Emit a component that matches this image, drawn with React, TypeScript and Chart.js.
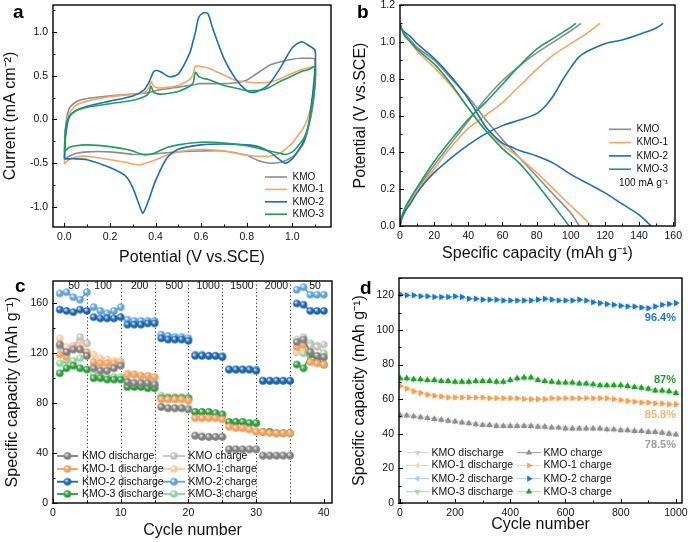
import React, { useEffect, useRef } from "react";
import { Chart, registerables } from "chart.js";
Chart.register(...registerables);

const FONT = "'Liberation Sans', Arial, Helvetica, sans-serif";
const NAMES = ["KMO", "KMO-1", "KMO-2", "KMO-3"];

// ---------------- Panel a : CV curves ----------------
const cvAnodicV = [0, 0.005, 0.02, 0.05, 0.1, 0.2, 0.3, 0.35, 0.37, 0.38, 0.39, 0.4, 0.42, 0.46, 0.5, 0.55, 0.565, 0.575, 0.59, 0.61, 0.63, 0.65, 0.7, 0.75, 0.8, 0.83, 0.87, 0.9, 0.95, 1.0, 1.04, 1.07, 1.1];
const cvCathodicV = [1.1, 1.09, 1.07, 1.05, 1.02, 1.0, 0.97, 0.95, 0.9, 0.85, 0.8, 0.7, 0.6, 0.5, 0.45, 0.4, 0.37, 0.345, 0.33, 0.3, 0.27, 0.2, 0.1, 0.05, 0.02, 0];

const kmoAnodic = [-0.45, -0.1, 0.12, 0.2, 0.24, 0.27, 0.29, 0.3, 0.31, 0.315, 0.32, 0.33, 0.34, 0.355, 0.37, 0.39, 0.395, 0.4, 0.41, 0.41, 0.41, 0.41, 0.41, 0.42, 0.45, 0.5, 0.57, 0.62, 0.66, 0.69, 0.7, 0.7, 0.69];
const kmoCathodic = [0.45, 0.15, -0.1, -0.27, -0.38, -0.43, -0.47, -0.49, -0.5, -0.47, -0.41, -0.36, -0.36, -0.37, -0.38, -0.39, -0.4, -0.4, -0.4, -0.4, -0.39, -0.37, -0.37, -0.39, -0.42, -0.45];
const kmo1Anodic = [-0.51, -0.15, 0.06, 0.16, 0.21, 0.26, 0.29, 0.31, 0.36, 0.43, 0.39, 0.37, 0.36, 0.37, 0.39, 0.46, 0.52, 0.61, 0.61, 0.6, 0.59, 0.57, 0.51, 0.45, 0.43, 0.42, 0.42, 0.43, 0.47, 0.53, 0.57, 0.59, 0.6];
const kmo1Cathodic = [0.45, 0.25, 0.03, -0.09, -0.2, -0.27, -0.34, -0.38, -0.42, -0.42, -0.41, -0.36, -0.34, -0.37, -0.41, -0.46, -0.49, -0.51, -0.52, -0.51, -0.49, -0.46, -0.42, -0.43, -0.46, -0.51];
const kmo2Anodic = [-0.45, -0.2, 0.02, 0.1, 0.15, 0.21, 0.27, 0.34, 0.42, 0.48, 0.54, 0.56, 0.55, 0.49, 0.52, 0.76, 0.9, 1.0, 1.17, 1.22, 1.21, 1.05, 0.7, 0.47, 0.33, 0.31, 0.35, 0.41, 0.6, 0.82, 0.89, 0.85, 0.79];
const kmo2Cathodic = [0.6, 0.3, -0.08, -0.25, -0.38, -0.45, -0.5, -0.47, -0.37, -0.31, -0.29, -0.28, -0.29, -0.34, -0.44, -0.7, -0.92, -1.07, -0.99, -0.78, -0.65, -0.55, -0.46, -0.45, -0.45, -0.45];
const kmo3Anodic = [-0.37, -0.1, 0.03, 0.1, 0.14, 0.18, 0.22, 0.26, 0.3, 0.38, 0.32, 0.3, 0.29, 0.3, 0.32, 0.38, 0.42, 0.54, 0.49, 0.47, 0.46, 0.44, 0.39, 0.36, 0.33, 0.33, 0.34, 0.37, 0.44, 0.5, 0.55, 0.57, 0.6];
const kmo3Cathodic = [0.4, 0.2, -0.08, -0.22, -0.32, -0.37, -0.4, -0.39, -0.36, -0.33, -0.3, -0.27, -0.26, -0.29, -0.32, -0.38, -0.4, -0.4, -0.39, -0.36, -0.34, -0.31, -0.29, -0.3, -0.32, -0.37];

// ---------------- Panel b : GCD curves ----------------
const kmoChgCap = [0, 1, 3, 6, 10, 20, 30, 40, 50, 60, 70, 80, 90, 100, 106];
const kmoChgV = [0, 0.04, 0.09, 0.14, 0.2, 0.33, 0.45, 0.57, 0.69, 0.79, 0.87, 0.94, 1.0, 1.06, 1.1];
const kmo1ChgCap = [0, 1, 3, 6, 10, 20, 30, 40, 50, 60, 70, 80, 90, 100, 110, 117];
const kmo1ChgV = [0, 0.04, 0.08, 0.13, 0.19, 0.31, 0.43, 0.53, 0.6, 0.67, 0.76, 0.85, 0.93, 0.99, 1.05, 1.1];
const kmo2ChgCap = [0, 1, 3, 6, 10, 15, 20, 25, 30, 40, 50, 60, 70, 80, 85, 90, 95, 100, 105, 110, 120, 130, 140, 150, 154];
const kmo2ChgV = [0, 0.04, 0.08, 0.12, 0.18, 0.24, 0.29, 0.33, 0.37, 0.44, 0.5, 0.545, 0.575, 0.61, 0.65, 0.71, 0.79, 0.86, 0.92, 0.95, 0.99, 1.01, 1.04, 1.075, 1.1];
const kmo3ChgCap = [0, 1, 3, 6, 10, 20, 30, 40, 50, 60, 70, 80, 90, 100, 103];
const kmo3ChgV = [0, 0.05, 0.1, 0.15, 0.21, 0.35, 0.47, 0.58, 0.67, 0.77, 0.87, 0.96, 1.02, 1.08, 1.1];

const kmoDisCap = [0, 1, 3, 6, 10, 20, 30, 40, 50, 60, 70, 80, 90, 100, 105];
const kmoDisV = [1.1, 1.07, 1.04, 1.01, 0.97, 0.9, 0.8, 0.7, 0.58, 0.47, 0.37, 0.27, 0.17, 0.07, 0];
const kmo1DisCap = [0, 1, 3, 6, 10, 20, 30, 40, 50, 60, 70, 80, 90, 100, 108, 112];
const kmo1DisV = [1.1, 1.07, 1.03, 1.0, 0.95, 0.86, 0.76, 0.64, 0.52, 0.44, 0.37, 0.29, 0.2, 0.11, 0.04, 0];
const kmo2DisCap = [0, 1, 3, 6, 10, 20, 30, 40, 50, 55, 60, 65, 70, 80, 90, 100, 110, 120, 130, 140, 147];
const kmo2DisV = [1.1, 1.07, 1.05, 1.03, 0.99, 0.91, 0.81, 0.69, 0.54, 0.49, 0.45, 0.43, 0.41, 0.38, 0.34, 0.28, 0.23, 0.18, 0.12, 0.06, 0];
const kmo3DisCap = [0, 1, 3, 6, 10, 20, 30, 40, 50, 60, 70, 80, 90, 99];
const kmo3DisV = [1.1, 1.07, 1.03, 1.0, 0.96, 0.88, 0.77, 0.64, 0.52, 0.42, 0.34, 0.23, 0.11, 0];

// ---------------- Panel c : rate capability ----------------
const rateCycles = [1, 2, 3, 4, 5, 6, 7, 8, 9, 10, 11, 12, 13, 14, 15, 16, 17, 18, 19, 20, 21, 22, 23, 24, 25, 26, 27, 28, 29, 30, 31, 32, 33, 34, 35, 36, 37, 38, 39, 40];
const kmoRateDis = [127, 121, 123, 123, 118, 108, 106, 106, 108, 110, 97, 96, 96, 96, 95, 77, 76, 76, 76, 75, 54, 53, 53, 53, 53, 43, 43, 43, 43, 43, 38, 38, 38, 38, 38, 129, 131, 121, 118, 117];
const kmoRateChg = [125, 120, 126, 133, 128, 109, 107, 107, 110, 113, 98, 97, 97, 97, 96, 77, 76, 76, 76, 76, 54, 54, 53, 53, 53, 43, 43, 43, 43, 43, 38, 38, 38, 38, 38, 131, 133, 126, 125, 127];
const kmo1RateDis = [119, 117, 124, 124, 121, 113, 112, 112, 112, 111, 103, 103, 102, 102, 101, 83, 83, 83, 83, 82, 68, 68, 68, 68, 67, 61, 60, 60, 59, 57, 57, 56, 56, 56, 56, 125, 127, 113, 112, 111];
const kmo1RateChg = [132, 125, 125, 130, 128, 119, 116, 115, 114, 114, 104, 103, 102, 101, 100, 84, 84, 84, 84, 83, 69, 69, 69, 69, 68, 62, 61, 60, 59, 58, 57, 57, 56, 56, 56, 121, 126, 124, 118, 116];
const kmo2RateDis = [155, 154, 153, 155, 154, 149, 148, 148, 148, 149, 143, 143, 143, 144, 144, 132, 131, 131, 131, 130, 118, 118, 118, 118, 117, 107, 107, 107, 107, 106, 98, 98, 98, 98, 98, 160, 159, 154, 154, 154];
const kmo2RateChg = [168, 169, 165, 163, 169, 157, 154, 152, 154, 157, 147, 146, 146, 146, 146, 135, 134, 133, 133, 132, 119, 119, 118, 118, 118, 107, 107, 107, 107, 107, 98, 98, 98, 98, 98, 171, 173, 167, 167, 167];
const kmo3RateDis = [104, 108, 110, 108, 107, 100, 100, 99, 99, 99, 93, 93, 93, 92, 92, 84, 84, 84, 84, 84, 73, 73, 73, 72, 71, 65, 65, 65, 64, 64, 57, 57, 56, 56, 56, 111, 108, 119, 115, 111];
const kmo3RateChg = [112, 114, 114, 116, 118, 103, 102, 101, 101, 101, 95, 95, 94, 94, 94, 86, 85, 85, 85, 84, 73, 73, 73, 72, 71, 65, 65, 65, 64, 64, 57, 57, 56, 56, 56, 121, 120, 128, 126, 120];
const rateBoundaries = [5, 10, 15, 20, 25, 30, 35];
const rateLabels = ["50", "100", "200", "500", "1000", "1500", "2000", "50"];
const rateLabelPos = [3.1, 7.4, 12.8, 17.9, 22.9, 27.9, 33.0, 38.7];

// ---------------- Panel d : long cycling ----------------
const longCycles = [1, 25, 50, 75, 100, 125, 150, 175, 200, 225, 250, 275, 300, 325, 350, 375, 400, 425, 450, 475, 500, 525, 550, 575, 600, 625, 650, 675, 700, 725, 750, 775, 800, 825, 850, 875, 900, 925, 950, 975, 1000];
const kmoLongChg = [50.5, 50.5, 50, 49.5, 49, 48.5, 48, 47.5, 47, 46.5, 46, 45.5, 45, 45, 44.5, 44.5, 44.5, 44.5, 44.5, 44.5, 44, 44, 43.5, 43.5, 43, 43, 43, 43, 43, 43, 42.5, 42.5, 42, 42, 41.5, 41.5, 41, 41, 40.5, 40, 39.5];
const kmoLongDis = [50.8, 50.6, 50.2, 49.6, 49.2, 48.6, 48.2, 47.6, 47.2, 46.6, 46.2, 45.6, 45.2, 45, 44.8, 44.6, 44.6, 44.5, 44.6, 44.5, 44.2, 44, 43.6, 43.5, 43.2, 43, 43.2, 43, 43.1, 43, 42.6, 42.5, 42.2, 42, 41.6, 41.5, 41.2, 41, 40.6, 40.2, 39.6];
const kmo1LongChg = [67.5, 66, 64.5, 63.5, 62.5, 62, 61.5, 61, 61, 61, 61, 61, 61, 60.5, 60.5, 60.5, 60.5, 60.5, 60, 60, 60, 60, 60.5, 60.5, 60.5, 60.5, 60.5, 60.5, 60.5, 60.5, 60.5, 60, 59.5, 59, 58.5, 58, 58, 57.5, 57.5, 57, 57];
const kmo1LongDis = [68, 66.5, 65, 63.8, 62.8, 62.2, 61.7, 61.2, 61.1, 61, 61.1, 61, 61, 60.7, 60.6, 60.5, 60.6, 60.4, 60.2, 60.1, 60, 60.2, 60.5, 60.6, 60.5, 60.6, 60.5, 60.6, 60.5, 60.5, 60.4, 60.1, 59.6, 59.1, 58.6, 58.2, 58, 57.7, 57.5, 57.2, 57];
const kmo2LongChg = [120.5, 120, 120, 119.5, 119.5, 119, 119, 119, 119.5, 119, 118, 118, 117.5, 117.5, 117.5, 117, 117, 117, 117, 117, 117.5, 118, 117.5, 117, 117, 117, 117.5, 117, 116, 115.5, 115, 114.5, 114, 113.5, 113.5, 113, 112.5, 113.5, 114.5, 115, 115.5];
const kmo2LongDis = [120.3, 120.2, 119.8, 119.6, 119.3, 119.2, 118.9, 119.1, 119.3, 118.8, 118.2, 117.8, 117.6, 117.4, 117.3, 117.1, 116.9, 117, 117.1, 116.9, 117.4, 117.8, 117.4, 117.1, 116.9, 117.1, 117.3, 116.8, 116.1, 115.4, 114.9, 114.3, 113.8, 113.6, 113.3, 112.9, 112.6, 113.3, 114.3, 114.9, 115.3];
const kmo3LongChg = [72, 72, 71.5, 71.5, 71, 71, 70.5, 70.5, 70, 70, 70, 70.5, 70.5, 70.5, 70, 70, 71, 72, 72.5, 72.5, 71, 70.5, 70, 69.5, 69.5, 69.5, 69, 69, 68.5, 68, 68, 68, 68, 67.5, 67, 66.5, 66, 65, 65, 64.5, 63.5];
const kmo3LongDis = [71.8, 71.7, 71.4, 71.2, 70.9, 70.8, 70.4, 70.3, 70, 69.9, 70, 70.3, 70.4, 70.3, 70.1, 70, 70.8, 71.8, 72.3, 72.4, 71.1, 70.4, 70.1, 69.6, 69.4, 69.4, 69.1, 68.9, 68.4, 68.1, 67.9, 68, 67.8, 67.4, 67, 66.4, 66, 65.2, 64.8, 64.3, 63.6];
const retentionLabels = ["96.4%", "87%", "85.8%", "78.5%"];

// ---------------- styling ----------------
const LINE_COLORS = ["#8c8c8c", "#f7a469", "#1f6db5", "#1f9e5e"];
const RATE_DARK = ["#7f7f7f", "#f59e5a", "#1a63ad", "#2b9b38"];
const RATE_LIGHT = ["#c2c2c2", "#fbcaa2", "#5aa2d8", "#8fd49a"];
const LONG_CHG = ["#8f8f8f", "#f89f55", "#1f78c1", "#22a02c"];
const LONG_DIS = ["#d2d2d2", "#fcd3b0", "#a9cdec", "#a3dca3"];
const RET_COLORS = ["#1f78c1", "#22a02c", "#f9b37a", "#a0a0a0"];

type Pt = { x: number; y: number | null };
const zip = (xs: number[], ys: number[]): Pt[] => xs.map((x, i) => ({ x, y: ys[i] }));
// break the connecting line between current-density steps
const segmented = (xs: number[], ys: number[], breaks: number[]): Pt[] => {
  const out: Pt[] = [];
  xs.forEach((x, i) => {
    out.push({ x, y: ys[i] });
    if (breaks.includes(x)) out.push({ x: x + 0.5, y: null });
  });
  return out;
};

function makeBall(color: string, hi: string, r = 3.8) {
  const size = Math.ceil(r * 2 + 2);
  const c = document.createElement("canvas");
  c.width = size;
  c.height = size;
  const g = c.getContext("2d")!;
  const cx = size / 2, cy = size / 2;
  const grad = g.createRadialGradient(cx - r * 0.35, cy - r * 0.4, r * 0.1, cx, cy, r);
  grad.addColorStop(0, hi);
  grad.addColorStop(0.55, color);
  grad.addColorStop(1, color);
  g.fillStyle = grad;
  g.beginPath();
  g.arc(cx, cy, r, 0, Math.PI * 2);
  g.fill();
  return c;
}

function drawTri(ctx: CanvasRenderingContext2D, x: number, y: number, r: number, rotDeg: number, fill: string) {
  let rad = (rotDeg * Math.PI) / 180;
  ctx.beginPath();
  for (let k = 0; k < 3; k++) {
    const px = x + Math.sin(rad) * r, py = y - Math.cos(rad) * r;
    if (k === 0) ctx.moveTo(px, py); else ctx.lineTo(px, py);
    rad += (2 * Math.PI) / 3;
  }
  ctx.closePath();
  ctx.fillStyle = fill;
  ctx.fill();
}

type LegendItem = { x1: number; x2: number; tx: number; y: number; label: string; color: string; lw: number; ball?: HTMLCanvasElement; tri?: { rot: number; fill: string; r: number } };
type TextItem = { x: number; y: number; text: string; font: string; color: string; align: CanvasTextAlign; baseline?: CanvasTextBaseline };
type OverlayCfg = {
  xMajor: number[]; xMinor: number[]; yMajor: number[]; yMinor: number[];
  legend: LegendItem[]; legendFont: string; texts: TextItem[];
  vlines?: number[]; dataTexts?: { xv: number; dy: number; text: string; font: string }[];
};

function makeOverlay(cfg: OverlayCfg) {
  return {
    id: "overlay",
    beforeDatasetsDraw(chart: any) {
      if (!cfg.vlines) return;
      const { ctx, chartArea: ca, scales } = chart;
      ctx.save();
      ctx.strokeStyle = "#333";
      ctx.lineWidth = 1;
      ctx.setLineDash([1.2, 2.4]);
      for (const v of cfg.vlines) {
        const px = Math.round(scales.x.getPixelForValue(v)) + 0.5;
        ctx.beginPath();
        ctx.moveTo(px, ca.top);
        ctx.lineTo(px, ca.bottom);
        ctx.stroke();
      }
      ctx.restore();
    },
    afterDraw(chart: any) {
      const { ctx, chartArea: ca, scales } = chart;
      ctx.save();
      ctx.strokeStyle = "#000";
      ctx.lineWidth = 1;
      const tick = (x1: number, y1: number, x2: number, y2: number) => {
        ctx.beginPath();
        ctx.moveTo(x1, y1);
        ctx.lineTo(x2, y2);
        ctx.stroke();
      };
      for (const v of cfg.xMajor) { const p = Math.round(scales.x.getPixelForValue(v)) + 0.5; tick(p, ca.bottom, p, ca.bottom - 4); }
      for (const v of cfg.xMinor) { const p = Math.round(scales.x.getPixelForValue(v)) + 0.5; tick(p, ca.bottom, p, ca.bottom - 2.5); }
      for (const v of cfg.yMajor) { const p = Math.round(scales.y.getPixelForValue(v)) + 0.5; tick(ca.left - 1, p, ca.left + 4, p); }
      for (const v of cfg.yMinor) { const p = Math.round(scales.y.getPixelForValue(v)) + 0.5; tick(ca.left, p, ca.left + 2.5, p); }
      ctx.lineWidth = 1.4;
      ctx.strokeRect(ca.left, ca.top, ca.right - ca.left, ca.bottom - ca.top);
      ctx.font = cfg.legendFont;
      ctx.textBaseline = "middle";
      ctx.textAlign = "left";
      for (const it of cfg.legend) {
        ctx.strokeStyle = it.color;
        ctx.lineWidth = it.lw;
        ctx.beginPath();
        ctx.moveTo(it.x1, it.y);
        ctx.lineTo(it.x2, it.y);
        ctx.stroke();
        const mx = (it.x1 + it.x2) / 2;
        if (it.ball) ctx.drawImage(it.ball, mx - it.ball.width / 2, it.y - it.ball.height / 2);
        if (it.tri) drawTri(ctx, mx, it.y, it.tri.r, it.tri.rot, it.tri.fill);
        ctx.fillStyle = "#111";
        ctx.fillText(it.label, it.tx, it.y);
      }
      for (const t of cfg.texts) {
        ctx.font = t.font;
        ctx.fillStyle = t.color;
        ctx.textAlign = t.align;
        ctx.textBaseline = t.baseline || "alphabetic";
        ctx.fillText(t.text, t.x, t.y);
      }
      if (cfg.dataTexts) {
        for (const t of cfg.dataTexts) {
          ctx.font = t.font;
          ctx.fillStyle = "#111";
          ctx.textAlign = "center";
          ctx.textBaseline = "middle";
          ctx.fillText(t.text, scales.x.getPixelForValue(t.xv), ca.top + t.dy);
        }
      }
      ctx.restore();
    },
  };
}

function axis(o: { min: number; max: number; major: number[]; title: string; titlePad: number; size: number; horizontal: boolean; fmt: (v: number) => string; tickPad: number }) {
  return {
    type: "linear",
    min: o.min,
    max: o.max,
    grid: { display: false, drawTicks: false },
    border: { display: false },
    ticks: {
      font: { family: FONT, size: 10.5 },
      color: "#111",
      padding: o.tickPad,
      autoSkip: false,
      maxRotation: 0,
      callback: (v: number) => o.fmt(v),
    },
    afterBuildTicks: (s: any) => { s.ticks = o.major.map((v) => ({ value: v })); },
    afterFit: (s: any) => {
      if (o.horizontal) s.height = o.size; else s.width = o.size;
      s.paddingTop = 0; s.paddingBottom = 0; s.paddingLeft = 0; s.paddingRight = 0;
    },
    title: { display: true, text: o.title, font: { family: FONT, size: 16 }, color: "#111", padding: { top: o.titlePad, bottom: o.titlePad } },
  };
}

const baseOptions = (pad: { top: number; right: number }, x: any, y: any) => ({
  animation: false,
  responsive: false,
  layout: { padding: { top: pad.top, right: pad.right, left: 0, bottom: 0 } },
  plugins: { legend: { display: false }, tooltip: { enabled: false } },
  scales: { x, y },
});

const f1 = (v: number) => v.toFixed(1);
const f0 = (v: number) => String(Math.round(v));
const LFONT = `10px ${FONT}`;
const LFONT2 = `10.5px ${FONT}`;
const PFONT = `bold 19px ${FONT}`;

function buildA(cv: HTMLCanvasElement) {
  const an = [kmoAnodic, kmo1Anodic, kmo2Anodic, kmo3Anodic];
  const ca = [kmoCathodic, kmo1Cathodic, kmo2Cathodic, kmo3Cathodic];
  const datasets = NAMES.map((n, i) => ({
    label: n,
    data: [...zip(cvAnodicV, an[i]), ...zip(cvCathodicV, ca[i])],
    showLine: true,
    borderColor: LINE_COLORS[i],
    borderWidth: 1.6,
    pointRadius: 0,
    tension: 0.25,
    fill: false,
    order: 3 - i,
  }));
  const legend: LegendItem[] = NAMES.map((n, i) => ({ x1: 265, x2: 287, tx: 292.5, y: 177 + i * 12.4, label: n, color: LINE_COLORS[i], lw: 1.6 }));
  const overlay = makeOverlay({
    xMajor: [0, 0.2, 0.4, 0.6, 0.8, 1.0], xMinor: [0.1, 0.3, 0.5, 0.7, 0.9, 1.1],
    yMajor: [-1, -0.5, 0, 0.5, 1], yMinor: [-0.75, -0.25, 0.25, 0.75, 1.25],
    legend, legendFont: LFONT,
    texts: [{ x: 13, y: 18.3, text: "a", font: PFONT, color: "#000", align: "left" }],
  });
  return new Chart(cv, {
    type: "scatter",
    data: { datasets },
    options: baseOptions({ top: 5, right: 13 },
      axis({ min: -0.05, max: 1.17, major: [0, 0.2, 0.4, 0.6, 0.8, 1.0], title: "Potential (V vs.SCE)", titlePad: 3.5, size: 44, horizontal: true, fmt: f1, tickPad: 4 }),
      axis({ min: -1.23, max: 1.31, major: [-1, -0.5, 0, 0.5, 1], title: "Current (mA cm⁻²)", titlePad: 0.5, size: 53, horizontal: false, fmt: f1, tickPad: 5 })) as any,
    plugins: [overlay],
  } as any);
}

function buildB(cv: HTMLCanvasElement) {
  const chg = [zip(kmoChgCap, kmoChgV), zip(kmo1ChgCap, kmo1ChgV), zip(kmo2ChgCap, kmo2ChgV), zip(kmo3ChgCap, kmo3ChgV)];
  const dis = [zip(kmoDisCap, kmoDisV), zip(kmo1DisCap, kmo1DisV), zip(kmo2DisCap, kmo2DisV), zip(kmo3DisCap, kmo3DisV)];
  const datasets: any[] = [];
  NAMES.forEach((n, i) => {
    datasets.push({ label: n + " charge", data: chg[i], showLine: true, borderColor: LINE_COLORS[i], borderWidth: 1.6, pointRadius: 0, tension: 0.35, order: 3 - i });
    datasets.push({ label: n + " discharge", data: dis[i], showLine: true, borderColor: LINE_COLORS[i], borderWidth: 1.6, pointRadius: 0, tension: 0.35, order: 3 - i });
  });
  const legend: LegendItem[] = NAMES.map((n, i) => ({ x1: 265, x2: 287, tx: 292.5, y: 129.3 + i * 13.3, label: n, color: LINE_COLORS[i], lw: 1.6 }));
  const overlay = makeOverlay({
    xMajor: [0, 20, 40, 60, 80, 100, 120, 140, 160], xMinor: [10, 30, 50, 70, 90, 110, 130, 150],
    yMajor: [0, 0.2, 0.4, 0.6, 0.8, 1.0, 1.2], yMinor: [0.1, 0.3, 0.5, 0.7, 0.9, 1.1],
    legend, legendFont: LFONT,
    texts: [
      { x: 13, y: 18.3, text: "b", font: PFONT, color: "#000", align: "left" },
      { x: 275, y: 183, text: "100 mA g⁻¹", font: LFONT, color: "#111", align: "left", baseline: "middle" },
    ],
  });
  return new Chart(cv, {
    type: "scatter",
    data: { datasets },
    options: baseOptions({ top: 5, right: 13 },
      axis({ min: 0, max: 161, major: [0, 20, 40, 60, 80, 100, 120, 140, 160], title: "Specific capacity (mAh g⁻¹)", titlePad: 7.5, size: 45, horizontal: true, fmt: f0, tickPad: 4 }),
      axis({ min: 0, max: 1.2, major: [0, 0.2, 0.4, 0.6, 0.8, 1.0, 1.2], title: "Potential (V vs.SCE)", titlePad: 7, size: 56, horizontal: false, fmt: f1, tickPad: 5 })) as any,
    plugins: [overlay],
  } as any);
}

function buildC(cv: HTMLCanvasElement) {
  const dis = [kmoRateDis, kmo1RateDis, kmo2RateDis, kmo3RateDis];
  const chg = [kmoRateChg, kmo1RateChg, kmo2RateChg, kmo3RateChg];
  const darkBalls = RATE_DARK.map((c) => makeBall(c, "#e8e8e8"));
  const lightBalls = RATE_LIGHT.map((c) => makeBall(c, "#ffffff"));
  const datasets: any[] = [];
  NAMES.forEach((n, i) => {
    datasets.push({ label: n + " charge", data: segmented(rateCycles, chg[i], rateBoundaries), showLine: true, spanGaps: false, borderColor: RATE_LIGHT[i], borderWidth: 1.5, pointStyle: lightBalls[i], pointRadius: 4, order: 10 + i });
    datasets.push({ label: n + " discharge", data: segmented(rateCycles, dis[i], rateBoundaries), showLine: true, spanGaps: false, borderColor: RATE_DARK[i], borderWidth: 1.5, pointStyle: darkBalls[i], pointRadius: 4, order: i });
  });
  const rows = [185, 198, 210.7, 223];
  const legend: LegendItem[] = [];
  NAMES.forEach((n, i) => {
    legend.push({ x1: 57, x2: 78, tx: 82, y: rows[i], label: n + " discharge", color: RATE_DARK[i], lw: 1.8, ball: darkBalls[i] });
    legend.push({ x1: 163, x2: 185, tx: 188.5, y: rows[i], label: n + " charge", color: RATE_LIGHT[i], lw: 1.8, ball: lightBalls[i] });
  });
  const overlay = makeOverlay({
    xMajor: [0, 10, 20, 30, 40], xMinor: [5, 15, 25, 35],
    yMajor: [0, 40, 80, 120, 160], yMinor: [20, 60, 100, 140],
    legend, legendFont: LFONT2,
    texts: [{ x: 15, y: 20.7, text: "c", font: PFONT, color: "#000", align: "left" }],
    vlines: rateBoundaries,
    dataTexts: rateLabels.map((t, i) => ({ xv: rateLabelPos[i], dy: 5.5, text: t, font: LFONT2 })),
  });
  return new Chart(cv, {
    type: "scatter",
    data: { datasets },
    options: baseOptions({ top: 10, right: 12 },
      axis({ min: 0, max: 41.2, major: [0, 10, 20, 30, 40], title: "Cycle number", titlePad: 2, size: 39, horizontal: true, fmt: f0, tickPad: 4 }),
      axis({ min: 0, max: 178, major: [0, 40, 80, 120, 160], title: "Specific capacity (mAh g⁻¹)", titlePad: 3, size: 53, horizontal: false, fmt: f0, tickPad: 5 })) as any,
    plugins: [overlay],
  } as any);
}

function buildD(cv: HTMLCanvasElement) {
  const chg = [kmoLongChg, kmo1LongChg, kmo2LongChg, kmo3LongChg];
  const dis = [kmoLongDis, kmo1LongDis, kmo2LongDis, kmo3LongDis];
  const chgRot = [0, 90, 90, 0];
  const disRot = [180, 270, 270, 180];
  const datasets: any[] = [];
  NAMES.forEach((n, i) => {
    datasets.push({ label: n + " discharge", data: zip(longCycles, dis[i]), showLine: true, borderColor: LONG_DIS[i], borderWidth: 1, pointStyle: "triangle", rotation: disRot[i], pointRadius: 3.8, pointBackgroundColor: LONG_DIS[i], pointBorderWidth: 0, order: 10 + i });
    datasets.push({ label: n + " charge", data: zip(longCycles, chg[i]), showLine: true, borderColor: LONG_DIS[i], borderWidth: 1, pointStyle: "triangle", rotation: chgRot[i], pointRadius: 3.8, pointBackgroundColor: LONG_CHG[i], pointBorderWidth: 0, order: i });
  });
  const rows = [181.7, 194.5, 207.7, 220.7];
  const legend: LegendItem[] = [];
  NAMES.forEach((n, i) => {
    legend.push({ x1: 62, x2: 85, tx: 87.5, y: rows[i], label: n + " discharge", color: LONG_DIS[i], lw: 1, tri: { rot: disRot[i], fill: LONG_DIS[i], r: 3.6 } });
    legend.push({ x1: 173, x2: 197, tx: 199.5, y: rows[i], label: n + " charge", color: i === 0 ? "#9a9a9a" : LONG_DIS[i], lw: 1, tri: { rot: chgRot[i], fill: LONG_CHG[i], r: 3.6 } });
  });
  const retY = [46.7, 109.3, 144, 174];
  const overlay = makeOverlay({
    xMajor: [0, 200, 400, 600, 800, 1000], xMinor: [100, 300, 500, 700, 900],
    yMajor: [0, 20, 40, 60, 80, 100, 120], yMinor: [10, 30, 50, 70, 90, 110, 130],
    legend, legendFont: LFONT2,
    texts: [
      { x: 16, y: 23.3, text: "d", font: PFONT, color: "#000", align: "left" },
      ...retentionLabels.map((t, i) => ({ x: 332, y: retY[i], text: t, font: `bold 11px ${FONT}`, color: RET_COLORS[i], align: "right" as CanvasTextAlign, baseline: "middle" as CanvasTextBaseline })),
    ],
  });
  return new Chart(cv, {
    type: "scatter",
    data: { datasets },
    options: baseOptions({ top: 7, right: 6 },
      axis({ min: -3, max: 1022, major: [0, 200, 400, 600, 800, 1000], title: "Cycle number", titlePad: 7.5, size: 39, horizontal: true, fmt: f0, tickPad: 4 }),
      axis({ min: 0, max: 130, major: [0, 20, 40, 60, 80, 100, 120], title: "Specific capacity (mAh g⁻¹)", titlePad: 6, size: 55, horizontal: false, fmt: f0, tickPad: 5 })) as any,
    plugins: [overlay],
  } as any);
}

export default function App() {
  const ra = useRef<HTMLCanvasElement>(null);
  const rb = useRef<HTMLCanvasElement>(null);
  const rc = useRef<HTMLCanvasElement>(null);
  const rd = useRef<HTMLCanvasElement>(null);
  useEffect(() => {
    const charts = [buildA(ra.current!), buildB(rb.current!), buildC(rc.current!), buildD(rd.current!)];
    return () => charts.forEach((c) => c.destroy());
  }, []);
  const cs = (l: number, t: number): React.CSSProperties => ({ position: "absolute", left: l, top: t, width: 344, height: 271 });
  return (
    <div style={{ position: "absolute", left: 0, top: 0, width: 688, height: 542, background: "#fff" }}>
      <canvas ref={ra} width={344} height={271} style={cs(0, 0)} />
      <canvas ref={rb} width={344} height={271} style={cs(344, 0)} />
      <canvas ref={rc} width={344} height={271} style={cs(0, 271)} />
      <canvas ref={rd} width={344} height={271} style={cs(344, 271)} />
    </div>
  );
}
